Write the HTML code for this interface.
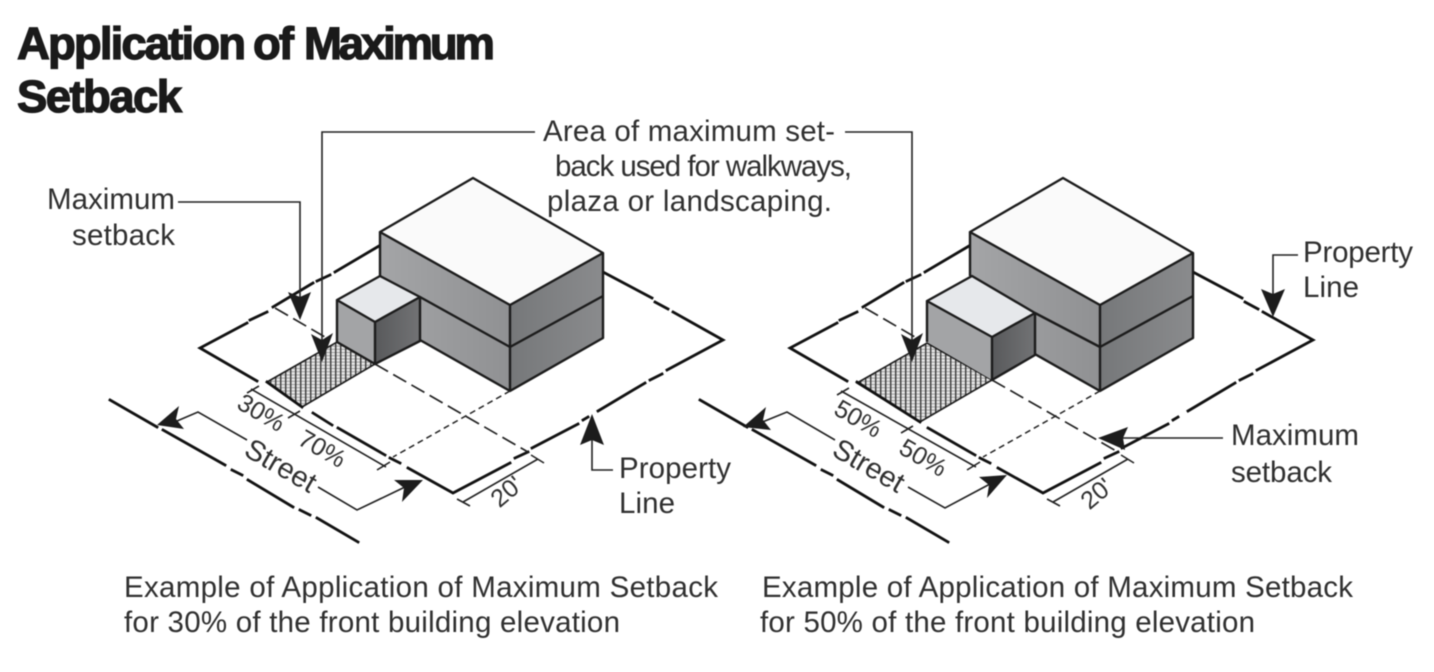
<!DOCTYPE html>
<html><head><meta charset="utf-8"><title>Application of Maximum Setback</title>
<style>
html,body{margin:0;padding:0;background:#fff;width:1434px;height:672px;overflow:hidden}
svg{display:block;filter:blur(.55px)}
text{font-family:"Liberation Sans",sans-serif;fill:#303030;font-size:29.5px}
.t{font-weight:bold;font-size:45.5px;fill:#1a1a1a;stroke:#1a1a1a;stroke-width:1.3px}
.s{font-size:25px}
.st{font-size:29px}
.b{stroke:#1c1c1c;stroke-width:2.4;fill:none;stroke-linejoin:round}
.p{stroke:#111;stroke-width:2.8;fill:none;stroke-linecap:square}
.th{stroke:#222;stroke-width:1.6;fill:none}
.d1{stroke:#222;stroke-width:1.7;fill:none;stroke-dasharray:15 6}
.d2{stroke:#222;stroke-width:1.5;fill:none;stroke-dasharray:6 4}
.a{fill:#1c1c1c;stroke:none}
</style></head><body>
<svg width="1434" height="672" viewBox="0 0 1434 672" xmlns="http://www.w3.org/2000/svg">
<defs>
<linearGradient id="lf" x1="0" y1="0" x2="1" y2="0"><stop offset="0" stop-color="#a4a5a7"/><stop offset="1" stop-color="#909193"/></linearGradient>
<linearGradient id="rf" x1="0" y1="0" x2="1" y2="0"><stop offset="0" stop-color="#76787a"/><stop offset="1" stop-color="#8a8b8d"/></linearGradient>
<linearGradient id="sr" x1="0" y1="0" x2="1" y2="0"><stop offset="0" stop-color="#58595b"/><stop offset="1" stop-color="#727375"/></linearGradient>
<pattern id="h" width="5" height="3.2" patternUnits="userSpaceOnUse">
<rect width="5" height="3.2" fill="#e8e8e8"/>
<rect y="0" width="5" height="1" fill="#9a9a9a"/>
<rect x="0" width="1.4" height="3.2" fill="#3a3a3a"/>
</pattern>
<g id="common">
<!-- property lines -->
<path class="p" d="M247 323L200 348L257 381M250 320L267 312M273 307L313 283M317 281L330 275M335 272L379 246M603 272L652 298M655 302L668 309M673 312L723 340L667 370M662 374L650 380M645 383L598 411M588 417L583 420M578 424L532 448M528 452L515 458M510 463L453 493L408 468M400 463L390 458"/>
<!-- street -->
<path class="p" stroke-width="2.4" d="M110 400L157 427M163 430L225 465M232 470L242 475M248 480L293 507M300 510L310 515M317 518L358 542"/>
<!-- big building -->
<polygon points="473,178 380,232 510,305 603,253" fill="#fafafa"/>
<polygon points="380,232 510,305 510,391 420,340 380,320" fill="url(#lf)"/>
<polygon points="510,305 603,253 603,338 510,391" fill="url(#rf)"/>
<path class="b" d="M473 178L380 232L510 305L603 253ZM380 232V276M510 305V391M603 253V338L510 391L420 340"/>
<path class="b" d="M510 347L603 296"/>
<!-- dashed -->
<path class="d2" d="M510 391L393 457"/>
<!-- 20' dim -->
<path class="th" d="M463 502L538 459M457 499L470 506M531 455L544 463"/>
</g>
</defs>

<text class="t" x="17" y="59" textLength="229" lengthAdjust="spacing">Application</text>
<text class="t" x="253" y="59" textLength="41" lengthAdjust="spacing">of</text>
<text class="t" x="304" y="59" textLength="191" lengthAdjust="spacing">Maximum</text>
<text class="t" x="17" y="112" textLength="165" lengthAdjust="spacing">Setback</text>

<!-- LEFT -->
<use href="#common"/>
<polygon points="267,382 337,342 375,364 302,407" fill="url(#h)" stroke="#1c1c1c" stroke-width="1.6"/>
<path class="p" d="M267 382L302 407M313 413L332 425M338 428L385 455"/>
<path class="d1" d="M275 308L325 337"/>
<path class="d1" d="M375 364L528 452"/>
<polygon points="380,276 337,300 375,322 420,297" fill="#e6e8eb"/>
<polygon points="337,300 375,322 375,364 337,342" fill="#a3a4a6"/>
<polygon points="375,322 420,297 420,341 375,364" fill="url(#sr)"/>
<path d="M420 297L510 347" class="b"/>
<path class="b" d="M380 276L337 300L375 322L420 297ZM337 300V342L375 364L420 341V297M375 322V364"/>
<path class="th" d="M251 389L386 467M247 393L259 386M288 418L300 411M377 470L390 462"/>

<!-- RIGHT -->
<use href="#common" x="590"/>
<polygon points="857,383 927,343 992,380 920,422" fill="url(#h)" stroke="#1c1c1c" stroke-width="1.6"/>
<path class="p" d="M857 382L920 422M928 428L975 455"/>
<path class="d1" d="M865 308L915 337"/>
<path class="d1" d="M992 380L1118 452"/>
<polygon points="972,276 927,301 992,337 1035,313" fill="#e6e8eb"/>
<polygon points="927,301 992,337 992,380 927,342" fill="#a3a4a6"/>
<polygon points="992,337 1035,313 1035,355 992,380" fill="url(#sr)"/>
<path class="b" d="M1035 313L1100 347"/>
<path class="b" d="M972 276L927 301L992 337L1035 313ZM927 301V342M992 337V380L1035 355V313"/>
<path class="th" d="M841 391L976 467M837 395L849 388M901 433L913 426M967 470L980 462"/>

<!-- leaders -->
<path class="th" d="M178 202H300V300" stroke-width="2"/>
<path class="th" d="M535 132H322V345"/>
<path class="th" d="M845 132H912V345"/>
<path class="th" d="M613 470H592V435"/>
<path class="th" d="M1298 255H1273V295"/>
<path class="th" d="M1223 438H1118"/>
<path class="th" d="M247 440L198 412L170 424"/>
<path class="th" d="M318 487L357 510L405 487"/>
<path class="th" d="M835 440L787 412L760 423"/>
<path class="th" d="M908 487L945 508L990 484"/>

<!-- arrowheads -->
<polygon class="a" points="300,320 288,292 300,297 311,292"/>
<polygon class="a" points="322,362 311,334 322,340 333,333"/>
<polygon class="a" points="912,362 901,334 912,340 923,333"/>
<polygon class="a" points="592,414 580,445 592,440 604,445"/>
<polygon class="a" points="1273,317 1261,289 1273,294 1285,289"/>
<polygon class="a" points="1098,438 1128,427 1123,438 1125,450"/>
<polygon class="a" points="157,425 179,406 176,419 184,429"/>
<polygon class="a" points="423,480 394,480 404,488 402,502"/>
<polygon class="a" points="743,427 766,407 763,420 771,430"/>
<polygon class="a" points="1007,475 979,477 989,485 987,498"/>

<!-- labels -->
<text x="543" y="141" textLength="292" lengthAdjust="spacing">Area of maximum set-</text>
<text x="555" y="176" textLength="297" lengthAdjust="spacing">back used for walkways,</text>
<text x="547" y="211" textLength="285" lengthAdjust="spacing">plaza or landscaping.</text>
<text x="47" y="209" textLength="128" lengthAdjust="spacing">Maximum</text>
<text x="72" y="245" textLength="103" lengthAdjust="spacing">setback</text>
<text x="619" y="478" textLength="112" lengthAdjust="spacing">Property</text>
<text x="619" y="513" textLength="56" lengthAdjust="spacing">Line</text>
<text x="1303" y="262" textLength="110" lengthAdjust="spacing">Property</text>
<text x="1303" y="297" textLength="56" lengthAdjust="spacing">Line</text>
<text x="1231" y="445" textLength="128" lengthAdjust="spacing">Maximum</text>
<text x="1231" y="482" textLength="101" lengthAdjust="spacing">setback</text>
<text x="124" y="597" textLength="594" lengthAdjust="spacing">Example of Application of Maximum Setback</text>
<text x="124" y="632" textLength="496" lengthAdjust="spacing">for 30% of the front building elevation</text>
<text x="762" y="597" textLength="591" lengthAdjust="spacing">Example of Application of Maximum Setback</text>
<text x="760" y="632" textLength="495" lengthAdjust="spacing">for 50% of the front building elevation</text>

<text class="s" text-anchor="middle" transform="translate(257,420) rotate(30)">30%</text>
<text class="s" text-anchor="middle" transform="translate(318,456) rotate(30)">70%</text>
<text class="st" text-anchor="middle" transform="translate(276,474) rotate(30)">Street</text>
<text class="s" text-anchor="middle" transform="translate(512,498) rotate(-40)">20'</text>
<text class="s" text-anchor="middle" transform="translate(854,426) rotate(30)">50%</text>
<text class="s" text-anchor="middle" transform="translate(919,465) rotate(30)">50%</text>
<text class="st" text-anchor="middle" transform="translate(864,474) rotate(30)">Street</text>
<text class="s" text-anchor="middle" transform="translate(1102,500) rotate(-40)">20'</text>
</svg>
</body></html>
